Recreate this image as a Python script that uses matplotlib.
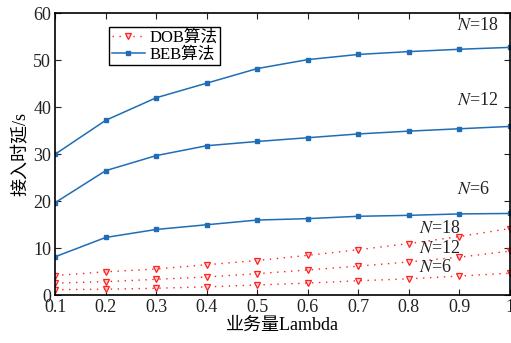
import matplotlib
matplotlib.use("Agg")
import matplotlib.pyplot as plt
import numpy as np

plt.rcParams['font.family'] = ['Liberation Serif', 'Noto Sans CJK SC']
plt.rcParams['mathtext.fontset'] = 'stix'

# data
lam = [0.1, 0.2, 0.3, 0.4, 0.5, 0.6, 0.7, 0.8, 0.9, 1.0]
beb_n18 = [30.0, 37.2, 42.0, 45.1, 48.2, 50.1, 51.2, 51.8, 52.3, 52.7]
beb_n12 = [19.7, 26.5, 29.7, 31.8, 32.7, 33.5, 34.3, 34.9, 35.4, 35.9]
beb_n6 = [8.2, 12.3, 14.0, 15.0, 16.0, 16.3, 16.8, 17.0, 17.3, 17.4]
dob_n18 = [4.2, 5.0, 5.6, 6.5, 7.4, 8.5, 9.7, 11.0, 12.5, 14.2]
dob_n12 = [2.6, 2.9, 3.4, 3.9, 4.6, 5.4, 6.2, 7.1, 8.1, 9.4]
dob_n6 = [1.2, 1.3, 1.5, 1.8, 2.2, 2.6, 3.1, 3.5, 4.1, 4.7]

blue = '#1f6db5'
red = '#ff2020'

fig = plt.figure(figsize=(5.11, 3.43), dpi=100)
ax = fig.add_axes([0.108, 0.139, 0.89, 0.823])

first = True
for d in [dob_n18, dob_n12, dob_n6]:
    ax.plot(lam, d, color=red, lw=1.0, ls=(0, (1, 4)), marker='v', ms=4.5, mfc='#ffd0d0',
            mec=red, mew=0.9, label='DOB算法' if first else None)
    first = False
first = True
for b in [beb_n18, beb_n12, beb_n6]:
    ax.plot(lam, b, '-', color=blue, lw=1.1, marker='s', ms=3, mfc=blue, mec=blue,
            label='BEB算法' if first else None)
    first = False

tk = dict(fontsize=13, color='#222222')
ax.text(0.895, 56.5, '$N$=18', **tk)
ax.text(0.895, 40.5, '$N$=12', **tk)
ax.text(0.895, 21.5, '$N$=6', **tk)
ax.text(0.82, 13.2, '$N$=18', **tk)
ax.text(0.82, 9.0, '$N$=12', **tk)
ax.text(0.82, 5.0, '$N$=6', **tk)

ax.set_xlim(0.1, 1.0)
ax.set_ylim(0, 60)
ax.set_xticks(lam)
ax.set_xticklabels(['0.1', '0.2', '0.3', '0.4', '0.5', '0.6', '0.7', '0.8', '0.9', '1'])
ax.set_yticks([0, 10, 20, 30, 40, 50, 60])
ax.tick_params(direction='in', top=True, right=True, labelsize=13, length=4,
               colors='#222222', pad=3)
for s in ax.spines.values():
    s.set_linewidth(1.2)

ax.set_xlabel('业务量Lambda', fontsize=13, labelpad=0)
ax.set_ylabel('接入时延/s', fontsize=13, labelpad=2)

leg = ax.legend(loc='upper left', bbox_to_anchor=(0.1, 0.98), fontsize=12,
                fancybox=False, edgecolor='black', framealpha=1, handlelength=2.0,
                borderpad=0.15, labelspacing=0.05, handletextpad=0.3)
leg.get_frame().set_linewidth(1.0)

fig.savefig('out.png', dpi=100)
